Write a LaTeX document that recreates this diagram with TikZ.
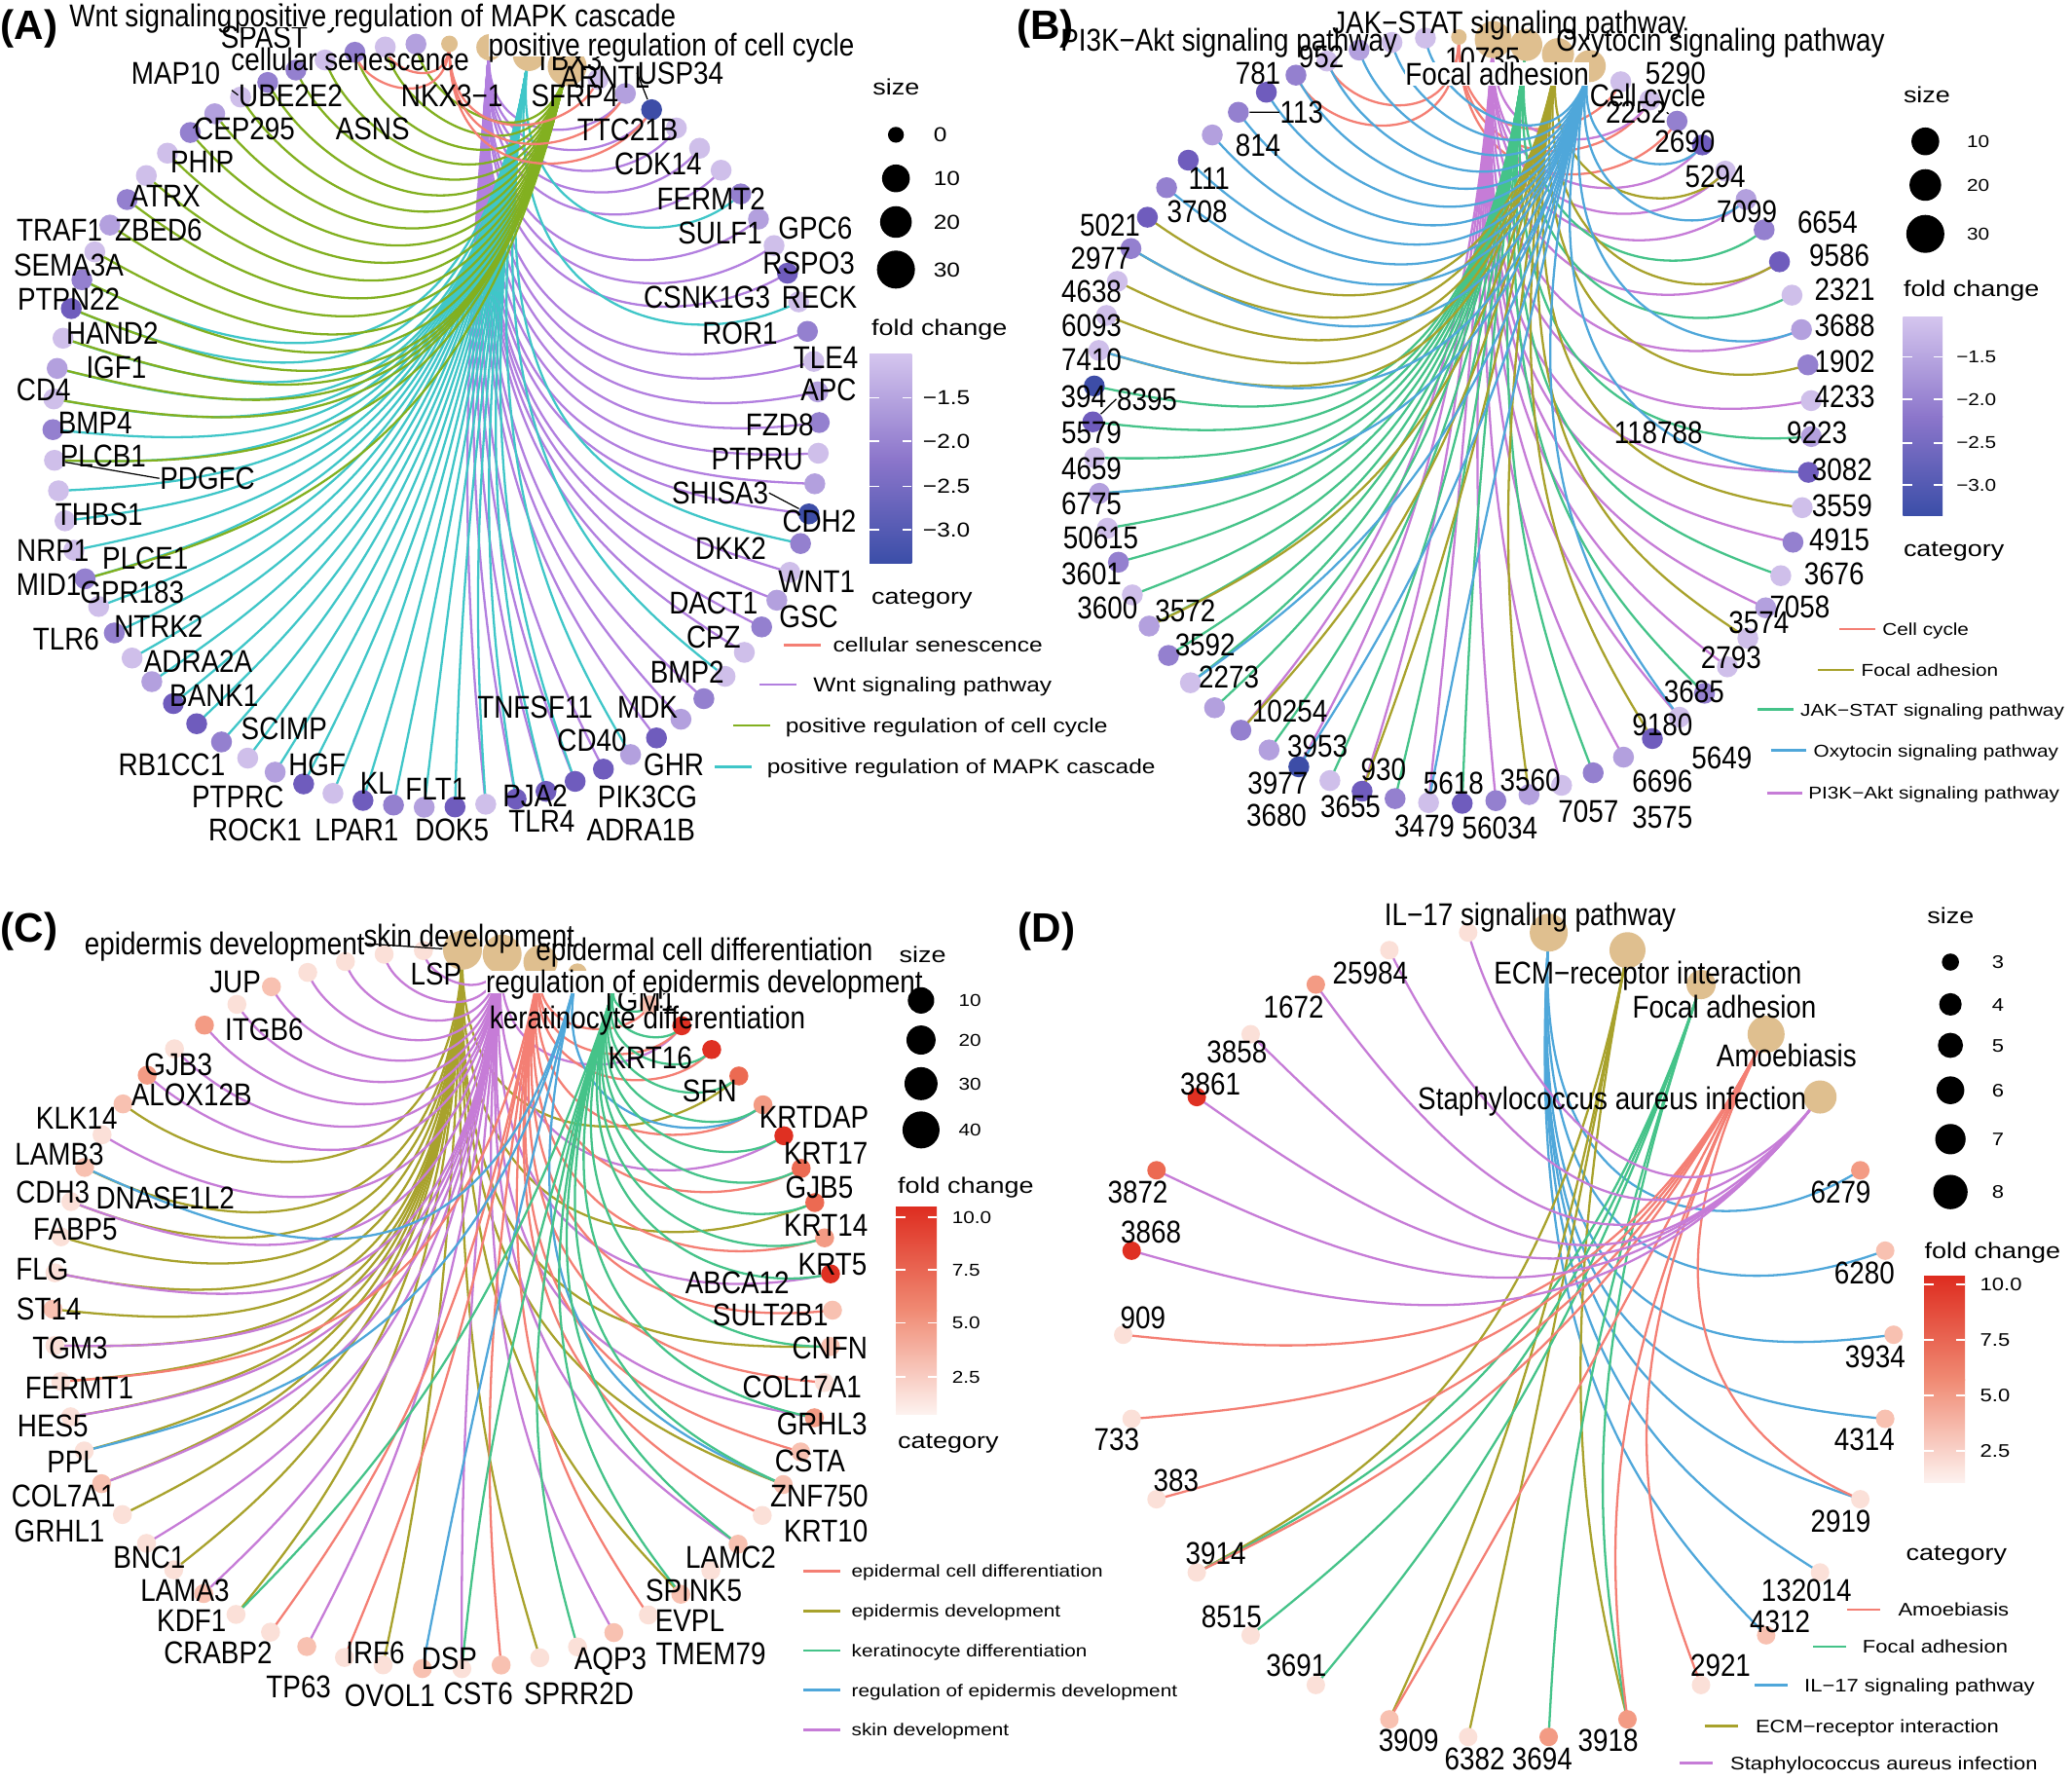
\documentclass[tikz,border=0pt]{standalone}
\usepackage{fontspec}
\setmainfont{Liberation Sans}
\newfontfamily\labf[FakeStretch=0.86]{Liberation Sans}
\newfontfamily\legf[FakeStretch=1.18]{Liberation Sans}
\usetikzlibrary{calc}
\pgfdeclarelayer{bglayer}
\pgfdeclarelayer{edgelayer}
\pgfsetlayers{bglayer,edgelayer,main}
\definecolor{catc}{HTML}{DFBF8F}
\definecolor{pa1}{HTML}{CFBFEA}
\definecolor{pa2}{HTML}{B3A0DE}
\definecolor{pa3}{HTML}{9480CF}
\definecolor{pa4}{HTML}{6F5CBD}
\definecolor{pa5}{HTML}{3D4DA7}
\definecolor{ra1}{HTML}{FBE0D8}
\definecolor{ra2}{HTML}{F8C1B1}
\definecolor{ra3}{HTML}{F39B84}
\definecolor{ra4}{HTML}{EC6A52}
\definecolor{ra5}{HTML}{DF3022}
\definecolor{eR}{HTML}{F47F74}
\definecolor{eOl}{HTML}{A8A22C}
\definecolor{eGr}{HTML}{45C389}
\definecolor{eBl}{HTML}{4FA7DA}
\definecolor{ePu}{HTML}{C67CD7}
\definecolor{eLi}{HTML}{82B020}
\definecolor{eCy}{HTML}{3FC6C8}
\definecolor{eWn}{HTML}{B27FDF}
\definecolor{cbP1}{HTML}{D4C5EE}
\definecolor{cbP2}{HTML}{8C76CB}
\definecolor{cbP3}{HTML}{3B4EA8}
\definecolor{cbR1}{HTML}{DE2D20}
\definecolor{cbR2}{HTML}{F08B74}
\definecolor{cbR3}{HTML}{FDF2EF}
\newdimen\edXa \newdimen\edXb \newdimen\edYa \newdimen\edYb
% edge: colour, category node, gene node, control coordinate
\newcommand\edg[4]{%
  \pgfextractx{\edXa}{\pgfpointanchor{#2}{center}}%
  \pgfextracty{\edYa}{\pgfpointanchor{#2}{center}}%
  \pgfextractx{\edXb}{\pgfpointanchor{#3}{center}}%
  \pgfextracty{\edYb}{\pgfpointanchor{#3}{center}}%
  \pgfmathsetmacro\fa{min(0.95,veclen(\edXb-\edXa,\edYb-\edYa)/170)}%
  \pgfmathsetmacro\fb{0.55*\fa}%
  \draw[ed,#1] (#2.center) .. controls ($(#2.center)!\fa!(#4)$) and ($(#3.center)!\fb!(#4)$) .. (#3.center);}
\tikzset{
  gn/.style={circle, inner sep=0pt, minimum size=0.215cm},
  cn/.style={circle, inner sep=0pt, fill=catc},
  ed/.style={line width=0.65pt},
  leader/.style={black, line width=0.35pt},
  gl/.style={font=\labf\fontsize{9.2}{10}\selectfont, inner sep=0pt, text height=6.6pt, text depth=0pt},
  ttl/.style={font=\bfseries\fontsize{12}{13}\selectfont, inner sep=0pt},
  lgt/.style={font=\legf\fontsize{6.5}{7}\selectfont, inner sep=0pt, anchor=west, text height=4.7pt, text depth=0pt},
  lgA/.style={font=\legf\fontsize{5.9}{6}\selectfont, inner sep=0pt, anchor=west, text height=4.2pt, text depth=0pt},
  lgB/.style={font=\legf\fontsize{5.0}{6}\selectfont, inner sep=0pt, anchor=west, text height=3.6pt, text depth=0pt},
  lgD/.style={font=\legf\fontsize{5.3}{6}\selectfont, inner sep=0pt, anchor=west, text height=3.8pt, text depth=0pt},
  sz/.style={circle, fill=black, inner sep=0pt},
  key/.style={line width=0.8pt},
  tick/.style={white, line width=0.5pt},
}
\begin{document}
\begin{tikzpicture}[x=0.01357cm,y=-0.01357cm]
\begin{pgfonlayer}{bglayer}
\fill[white] (0,0) rectangle (1568,1348);
\end{pgfonlayer}
\useasboundingbox (0,0) rectangle (1568,1348);

% ================= PANEL A =================
\foreach \cl [count=\q from 4] in {pa1,pa2,pa5,pa1,pa1,pa1,pa3,pa2,pa1,pa4,
 pa1,pa3,pa1,pa2,pa3,pa1,pa2,pa5,pa3,pa1,
 pa2,pa3,pa1,pa1,pa3,pa2,pa4,pa2,pa4,pa4,
 pa4,pa4,pa1,pa4,pa2,pa3,pa4,pa1,pa4,pa2,
 pa1,pa3,pa4,pa4,pa2,pa1,pa3,pa1,pa3,pa1,
 pa1,pa1,pa1,pa3,pa1,pa2,pa1,pa4,pa3,pa1,
 pa2,pa3,pa1,pa1,pa3,pa2,pa1,pa3,pa3,pa1,
 pa3,pa1,pa2}{
  \pgfmathsetmacro\ang{-65+4.611*(\q-4)}
  \node[gn,fill=\cl] (a\q) at ({330+290*cos(\ang)},{322+289*sin(\ang)}) {};
}
\node[cn,minimum size=0.17cm] (aS) at (340.1,33.2) {};
\node[cn,minimum size=0.27cm] (aW) at (370.4,35.8) {};
\node[cn,minimum size=0.33cm] (aM) at (400.2,41.6) {};
\node[cn,minimum size=0.40cm] (aC) at (429.2,50.4) {};
\coordinate (aSc) at (333,357);
\coordinate (aWc) at (342,357);
\coordinate (aMc) at (351,357);
\coordinate (aCc) at (360,357);
\begin{pgfonlayer}{edgelayer}
\foreach \q in {5,6,7,8,9,11,12,13,15,16,17,18,19,20,21,23,24,25,26,28,29,30,32,33,34,35,36} {\edg{eWn}{aW}{a\q}{aWc}}
\foreach \q in {10,14,22,27,31} {\edg{eCy}{aM}{a\q}{aMc}}
\foreach \q in {33,...,62} {\edg{eCy}{aM}{a\q}{aMc}}
\foreach \q in {52,56,58,59,60,61,62,63,64,65,66,67,68,69,70,71,72,73,74,75,76} {\edg{eLi}{aC}{a\q}{aCc}}
\foreach \q in {4,5,6,74,75} {\edg{eR}{aS}{a\q}{aSc}}
\end{pgfonlayer}
\foreach \x/\y/\t [count=\i] in {200/28/SPAST, 133/55/MAP10, 220/72/UBE2E2, 342/72/NKX3−1, 430/45/TBX3, 458/58/ARNTL, 435/72/SFRP4, 515/55/USP34, 185/97/CEP295, 282/97/ASNS, 475/98/TTC21B, 153/122/PHIP, 498/124/CDK14, 125/148/ATRX, 538/150/FERMT2, 45/174/TRAF1, 120/174/ZBED6, 545/176/SULF1, 617/172/GPC6, 52/200/SEMA3A, 612/199/RSPO3, 52/226/PTPN22, 535/225/CSNK1G3, 620/225/RECK, 85/252/HAND2, 560/252/ROR1, 625/270/TLE4, 88/278/IGF1, 33/295/CD4, 627/295/APC, 72/320/BMP4, 590/321/FZD8, 78/345/PLCB1, 573/347/PTPRU, 157/362/PDGFC, 545/373/SHISA3, 75/389/THBS1, 620/394/CDH2, 553/415/DKK2, 40/416/NRP1, 110/422/PLCE1, 618/440/WNT1, 37/442/MID1, 100/448/GPR183, 540/456/DACT1, 612/466/GSC, 50/483/TLR6, 120/474/NTRK2, 540/482/CPZ, 150/500/ADRA2A, 520/508/BMP2, 162/526/BANK1, 405/535/TNFSF11, 490/535/MDK, 215/551/SCIMP, 448/560/CD40, 130/578/RB1CC1, 240/578/HGF, 510/578/GHR, 285/592/KL, 330/597/FLT1, 405/602/PJA2, 490/603/PIK3CG, 180/603/PTPRC, 410/621/TLR4, 485/628/ADRA1B, 193/628/ROCK1, 270/628/LPAR1, 342/628/DOK5}
  {\node[gl] (Al\i) at (\x,\y) {\t};}
\draw[leader] (Al35.west) -- (a56);
\draw[leader] (Al36.east) -- (a21);
\draw[leader] (Al8.west) -- (a6);
\draw[leader] (Al3.west) -- (a70);
\draw[leader] (Al9.west) -- (a68);
\node[gl,anchor=west] (AcW) at (52,12) {Wnt signaling pathway};
\node[gl,anchor=east,fill=white] (AcM) at (512,12) {positive regulation of MAPK cascade};
\node[gl] (AcS) at (265,45) {cellular senescence};
\node[gl,fill=white] (AcC) at (508,34) {positive regulation of cell cycle};
\node[ttl] (TA) at (22,22) {(A)};
% legend A
\node[lgt] (LAs) at (660,66) {size};
\node[sz,minimum size=0.163cm] (LAs1) at (678,102) {};
\node[sz,minimum size=0.285cm] (LAs2) at (678,135) {};
\node[sz,minimum size=0.325cm] (LAs3) at (678,168) {};
\node[sz,minimum size=0.39cm] (LAs4) at (678,204) {};
\node[lgA] (LAn1) at (706,102) {0};
\node[lgA] (LAn2) at (706,135) {10};
\node[lgA] (LAn3) at (706,168) {20};
\node[lgA] (LAn4) at (706,204) {30};
\node[lgt] (LAf) at (659,248) {fold change};
\shade[top color=cbP1,bottom color=cbP2] (658,268) rectangle (690,347.5);
\shade[top color=cbP2,bottom color=cbP3] (658,347) rectangle (690,426);
\foreach \ty/\tl in {301/−1.5,334/−2.0,368/−2.5,401/−3.0}{
  \draw[tick] (658,\ty) -- (665,\ty); \draw[tick] (683,\ty) -- (690,\ty);
  \node[lgA] at (698,\ty) {\tl};}
\node[lgt] (LAc) at (659,451) {category};
\draw[key,eR] (593,488) -- (621,488); \node[lgA] (LAk1) at (630,488) {cellular senescence};
\draw[key,eWn] (575,518) -- (603,518); \node[lgA] (LAk2) at (615,518) {Wnt signaling pathway};
\draw[key,eLi] (555,549) -- (583,549); \node[lgA] (LAk3) at (594,549) {positive regulation of cell cycle};
\draw[key,eCy] (541,580) -- (569,580); \node[lgA] (LAk4) at (580,580) {positive regulation of MAPK cascade};

% ================= PANEL B =================
\foreach \cl [count=\q from 5] in {pa1,pa1,pa3,pa4,pa1,pa2,pa3,pa4,pa1,pa2,
 pa3,pa1,pa2,pa4,pa1,pa3,pa1,pa2,pa1,pa1,
 pa3,pa1,pa4,pa2,pa3,pa1,pa2,pa3,pa4,pa1,
 pa3,pa4,pa1,pa5,pa2,pa3,pa2,pa1,pa3,pa2,
 pa1,pa3,pa1,pa2,pa1,pa4,pa5,pa1,pa1,pa1,
 pa3,pa4,pa3,pa4,pa2,pa3,pa4,pa3,pa1,pa2,pa1,pa1}{
  \pgfmathsetmacro\ang{-88.9+5.373*\q}
  \node[gn,fill=\cl] (b\q) at ({1099+272*cos(\ang)},{318+290*sin(\ang)}) {};
}
\node[cn,minimum size=0.16cm] (bCC) at (1104,28) {};
\node[cn,minimum size=0.38cm] (bPI) at (1130,30) {};
\node[cn,minimum size=0.33cm] (bJS) at (1155,34) {};
\node[cn,minimum size=0.33cm] (bFA) at (1179,41) {};
\node[cn,minimum size=0.33cm] (bOx) at (1203,50) {};
\coordinate (bCCc) at (1100.5,353);
\coordinate (bPIc) at (1108,353);
\coordinate (bJSc) at (1116,353);
\coordinate (bFAc) at (1123,353);
\coordinate (bOxc) at (1130,353);
\begin{pgfonlayer}{edgelayer}
\foreach \q in {5,6,7,62,63} {\edg{eR}{bCC}{b\q}{bCCc}}
\foreach \q in {6,8,9,10,12,14,16,18,20,22,24,26,28,30,32,34,36,38,40} {\edg{ePu}{bPI}{b\q}{bPIc}}
\foreach \q in {11,13,17,21,25,29,33,35,37,39,41,42,43,44,45,46,47,48,49,50,51} {\edg{eGr}{bJS}{b\q}{bJSc}}
\foreach \q in {9,12,15,19,23,27,31,36,40,44,52,53,54,55,56} {\edg{eOl}{bFA}{b\q}{bFAc}}
\foreach \q in {8,10,14,18,26,34,38,42,48,52,55,57,58,59,60,61,62,63,64,65,66} {\edg{eBl}{bOx}{b\q}{bOxc}}
\end{pgfonlayer}
\foreach \x/\y/\t [count=\i] in {952/55/781, 1000/43/952, 985/85/113, 952/110/814, 915/135/111, 906/160/3708, 840/170/5021, 833/195/2977, 826/220/4638, 826/246/6093, 826/272/7410, 820/300/394, 868/302/8395, 826/327/5579, 826/354/4659, 826/381/6775, 833/407/50615, 826/434/3601, 838/460/3600, 897/462/3572, 912/488/3592, 930/512/2273, 976/538/10254, 997/564/3953, 967/592/3977, 1047/582/930, 966/617/3680, 1022/610/3655, 1100/592/5618, 1078/625/3479, 1158/590/3560, 1135/626/56034, 1202/614/7057, 1258/618/3575, 1258/591/6696, 1303/573/5649, 1258/548/9180, 1282/523/3685, 1310/497/2793, 1331/471/3574, 1362/459/7058, 1388/434/3676, 1392/408/4915, 1394/382/3559, 1394/355/3082, 1255/327/118788, 1375/327/9223, 1396/300/4233, 1396/273/1902, 1396/246/3688, 1396/219/2321, 1392/193/9586, 1383/168/6654, 1322/160/7099, 1298/133/5294, 1275/107/2690, 1238/85/2252, 1268/55/5290, 1122/44/10735}
  {\node[gl] (Bl\i) at (\x,\y) {\t};}
\draw[leader] (Bl3.west) -- (b60);
\draw[leader] (Bl13.west) -- (b50);
\draw[leader] (Bl57.east) -- (b7);
\node[gl] (BcPI) at (930,30) {PI3K−Akt signaling pathway};
\node[gl] (BcJS) at (1142,17) {JAK−STAT signaling pathway};
\node[gl] (BcOx) at (1302,30) {Oxytocin signaling pathway};
\node[gl,fill=white] (BcFA) at (1133,56) {Focal adhesion};
\node[gl] (BcCC) at (1247,72) {Cell cycle};
\node[ttl] (TB) at (791,22) {(B)};
% legend B
\node[lgt] (LBs) at (1440,72) {size};
\node[sz,minimum size=0.285cm] (LBs1) at (1457,107) {};
\node[sz,minimum size=0.325cm] (LBs2) at (1457,140) {};
\node[sz,minimum size=0.39cm] (LBs3) at (1457,177) {};
\node[lgB] (LBn1) at (1488,107) {10};
\node[lgB] (LBn2) at (1488,140) {20};
\node[lgB] (LBn3) at (1488,177) {30};
\node[lgt] (LBf) at (1440,218) {fold change};
\shade[top color=cbP1,bottom color=cbP2] (1440,240) rectangle (1470,315.5);
\shade[top color=cbP2,bottom color=cbP3] (1440,315) rectangle (1470,390);
\foreach \ty/\tl in {270/−1.5,302/−2.0,335/−2.5,367/−3.0}{
  \draw[tick] (1440,\ty) -- (1447,\ty); \draw[tick] (1463,\ty) -- (1470,\ty);
  \node[lgB] at (1480,\ty) {\tl};}
\node[lgt] (LBc) at (1440,415) {category};
\draw[key,eR] (1392,476) -- (1419,476); \node[lgB] (LBk1) at (1424,476) {Cell cycle};
\draw[key,eOl] (1376,507) -- (1403,507); \node[lgB] (LBk2) at (1408,507) {Focal adhesion};
\draw[key,eGr] (1330,537) -- (1357,537); \node[lgB] (LBk3) at (1362,537) {JAK−STAT signaling pathway};
\draw[key,eBl] (1340,568) -- (1367,568); \node[lgB] (LBk4) at (1372,568) {Oxytocin signaling pathway};
\draw[key,ePu] (1337,600) -- (1364,600); \node[lgB] (LBk5) at (1368,600) {PI3K−Akt signaling pathway};

% ================= PANEL C =================
\foreach \cl [count=\q from 5] in {ra2,ra5,ra5,ra4,ra3,ra5,ra4,ra4,ra3,ra5,
 ra2,ra2,ra1,ra3,ra2,ra2,ra1,ra2,ra1,ra2,
 ra1,ra2,ra1,ra1,ra2,ra1,ra2,ra1,ra1,ra2,
 ra1,ra1,ra2,ra1,ra1,ra1,ra2,ra1,ra1,ra1,
 ra1,ra2,ra1,ra1,ra1,ra2,ra1,ra2,ra3,ra1,
 ra3,ra1,ra2,ra1,ra1,ra1,ra1}{
  \pgfmathsetmacro\ang{-87+5.806*\q}
  \node[gn,minimum size=0.195cm,fill=\cl] (c\q) at ({335+295*cos(\ang)},{991+272*sin(\ang)}) {};
}
\node[cn,minimum size=0.40cm] (cED) at (350,719) {};
\node[cn,minimum size=0.40cm] (cSD) at (380,722) {};
\node[cn,minimum size=0.35cm] (cEC) at (409,728) {};
\node[cn,minimum size=0.19cm] (cRE) at (437,736) {};
\node[cn,minimum size=0.12cm] (cKD) at (465,747) {};
\coordinate (cEDc) at (339.5,1024);
\coordinate (cSDc) at (348.5,1024);
\coordinate (cECc) at (357,1024);
\coordinate (cREc) at (365.6,1024);
\coordinate (cKDc) at (374,1024);
\begin{pgfonlayer}{edgelayer}
\foreach \q in {8,12,16,20,24,28,32,36,38,40,41,42,43,44,45,46,47,48,49,50,52} {\edg{eOl}{cED}{c\q}{cEDc}}
\foreach \q in {6,10,14,18,22,26,30,34,37,39,41,43,45,47,49,51,53,54,55,56,57,58,59,60,61} {\edg{ePu}{cSD}{c\q}{cSDc}}
\foreach \q in {5,6,7,9,11,13,15,17,19,21,25,29,33,35,44} {\edg{eR}{cEC}{c\q}{cECc}}
\foreach \q in {9,20,31,42,50} {\edg{eBl}{cRE}{c\q}{cREc}}
\foreach \q in {5,6,7,8,9,10,11,12,13,14,16,18,20,22,24,27,30,36} {\edg{eGr}{cKD}{c\q}{cKDc}}
\end{pgfonlayer}
\foreach \x/\y/\t [count=\i] in {178/743/JUP, 330/737/LSP, 483/757/TGM1, 200/779/ITGB6, 492/800/KRT16, 135/805/GJB3, 537/825/SFN, 145/828/ALOX12B, 616/845/KRTDAP, 58/846/KLK14, 625/872/KRT17, 45/873/LAMB3, 620/898/GJB5, 40/902/CDH3, 125/906/DNASE1L2, 625/927/KRT14, 57/930/FABP5, 630/956/KRT5, 32/960/FLG, 558/970/ABCA12, 37/990/ST14, 583/995/SULT2B1, 53/1020/TGM3, 628/1020/CNFN, 60/1050/FERMT1, 607/1049/COL17A1, 40/1079/HES5, 622/1077/GRHL3, 55/1106/PPL, 613/1105/CSTA, 48/1132/COL7A1, 620/1132/ZNF750, 45/1158/GRHL1, 625/1158/KRT10, 113/1178/BNC1, 553/1178/LAMC2, 140/1203/LAMA3, 525/1203/SPINK5, 145/1226/KDF1, 522/1226/EVPL, 165/1250/CRABP2, 538/1251/TMEM79, 284/1250/IRF6, 226/1276/TP63, 340/1255/DSP, 462/1255/AQP3, 295/1283/OVOL1, 362/1281/CST6, 438/1281/SPRR2D}
  {\node[gl] (Cl\i) at (\x,\y) {\t};}
\node[gl] (CcED) at (170,714) {epidermis development};
\draw[leader] (CcED.east) -- (cED);
\node[gl] (CcSD) at (355,708) {skin development};
\node[gl] (CcEC) at (533,718) {epidermal cell differentiation};
\node[gl,fill=white] (CcRE) at (533,743) {regulation of epidermis development};
\node[gl] (CcKD) at (490,770) {keratinocyte differentiation};
\node[ttl] (TC) at (22,705) {(C)};
% legend C
\node[lgt] (LCs) at (680,722) {size};
\node[sz,minimum size=0.271cm] (LCs1) at (697,757) {};
\node[sz,minimum size=0.299cm] (LCs2) at (697,787) {};
\node[sz,minimum size=0.339cm] (LCs3) at (697,820) {};
\node[sz,minimum size=0.38cm] (LCs4) at (697,855) {};
\node[lgB] (LCn1) at (725,757) {10};
\node[lgB] (LCn2) at (725,787) {20};
\node[lgB] (LCn3) at (725,820) {30};
\node[lgB] (LCn4) at (725,855) {40};
\node[lgt] (LCf) at (679,897) {fold change};
\shade[top color=cbR1,bottom color=cbR2] (678,913) rectangle (709,992);
\shade[top color=cbR2,bottom color=cbR3] (678,991.5) rectangle (709,1070);
\foreach \ty/\tl in {921/10.0,961/7.5,1001/5.0,1042/2.5}{
  \draw[tick] (678,\ty) -- (685,\ty); \draw[tick] (702,\ty) -- (709,\ty);
  \node[lgB] at (720,\ty) {\tl};}
\node[lgt] (LCc) at (679,1090) {category};
\draw[key,eR] (608,1189) -- (636,1189); \node[lgB] (LCk1) at (644,1189) {epidermal cell differentiation};
\draw[key,eOl] (608,1219) -- (636,1219); \node[lgB] (LCk2) at (644,1219) {epidermis development};
\draw[key,eGr] (608,1249) -- (636,1249); \node[lgB] (LCk3) at (644,1249) {keratinocyte differentiation};
\draw[key,eBl] (608,1279) -- (636,1279); \node[lgB] (LCk4) at (644,1279) {regulation of epidermis development};
\draw[key,ePu] (608,1309) -- (636,1309); \node[lgB] (LCk5) at (644,1309) {skin development};

% ================= PANEL D =================
\foreach \cl [count=\q from 5] in {ra3,ra2,ra2,ra2,ra1,ra1,ra2,ra1,ra3,ra3,
 ra1,ra2,ra1,ra1,ra1,ra1,ra1,ra1,ra5,ra4,ra5,ra1,ra3,ra1,ra1}{
  \pgfmathsetmacro\ang{-84+12*\q}
  \node[gn,minimum size=0.19cm,fill=\cl] (d\q) at ({1141.5+291.5*cos(\ang)},{1010+306*sin(\ang)}) {};
}
\node[cn,minimum size=0.39cm] (dIL) at (1172,705.7) {};
\node[cn,minimum size=0.37cm] (dEC) at (1231.6,719) {};
\node[cn,minimum size=0.30cm] (dFA) at (1287.3,745) {};
\node[cn,minimum size=0.38cm] (dAm) at (1336.5,782.6) {};
\node[cn,minimum size=0.34cm] (dSt) at (1377.3,830.1) {};
\coordinate (dILc) at (1150.6,1047);
\coordinate (dECc) at (1168.6,1047);
\coordinate (dFAc) at (1185.5,1047);
\coordinate (dAmc) at (1200,1047);
\coordinate (dStc) at (1212.3,1047);
\begin{pgfonlayer}{edgelayer}
\foreach \q in {5,6,7,8,9,10,11} {\edg{eBl}{dIL}{d\q}{dILc}}
\foreach \q in {13,15,16,19} {\edg{eOl}{dEC}{d\q}{dECc}}
\foreach \q in {13,14,17,18,19} {\edg{eGr}{dFA}{d\q}{dFAc}}
\foreach \q in {9,12,13,16,19,20,21,22} {\edg{eR}{dAm}{d\q}{dAmc}}
\foreach \q in {23,24,25,26,27,28,29} {\edg{ePu}{dSt}{d\q}{dStc}}
\end{pgfonlayer}
\foreach \x/\y/\t [count=\i] in {1393/902/6279, 1411/963/6280, 1419/1026/3934, 1411/1089/4314, 1393/1151/2919, 1367/1203/132014, 1347/1227/4312, 1302/1260/2921, 1217/1317/3918, 1167/1331/3694, 1116/1331/6382, 1066/1317/3909, 981/1260/3691, 932/1223/8515, 920/1175/3914, 890/1120/383, 845/1089/733, 865/997/909, 871/932/3868, 861/902/3872, 916/820/3861, 936/796/3858, 979/762/1672, 1037/736/25984}
  {\node[gl] (Dl\i) at (\x,\y) {\t};}
\node[gl] (DcIL) at (1158,692) {IL−17 signaling pathway};
\node[gl] (DcEC) at (1247,736) {ECM−receptor interaction};
\node[gl] (DcFA) at (1305,762) {Focal adhesion};
\node[gl] (DcAm) at (1352,799) {Amoebiasis};
\node[gl] (DcSt) at (1220,831) {Staphylococcus aureus infection};
\node[ttl] (TD) at (792,705) {(D)};
% legend D
\node[lgt] (LDs) at (1458,693) {size};
\foreach \yy/\dd/\nn [count=\i] in {728/0.176/3,760/0.231/4,791/0.258/5,825/0.285/6,862/0.312/7,902/0.353/8}{
  \node[sz,minimum size=\dd cm] (LDs\i) at (1476,\yy) {};
  \node[lgD] (LDn\i) at (1507,\yy) {\nn};}
\node[lgt] (LDf) at (1456,946) {fold change};
\shade[top color=cbR1,bottom color=cbR2] (1456,966) rectangle (1487,1044.5);
\shade[top color=cbR2,bottom color=cbR3] (1456,1044) rectangle (1487,1122);
\foreach \ty/\tl in {972/10.0,1014/7.5,1056/5.0,1098/2.5}{
  \draw[tick] (1456,\ty) -- (1463,\ty); \draw[tick] (1480,\ty) -- (1487,\ty);
  \node[lgD] at (1498,\ty) {\tl};}
\node[lgt] (LDc) at (1442,1175) {category};
\draw[key,eR] (1398,1218) -- (1423,1218); \node[lgD] (LDk1) at (1436,1218) {Amoebiasis};
\draw[key,eGr] (1372,1246) -- (1397,1246); \node[lgD] (LDk2) at (1409,1246) {Focal adhesion};
\draw[key,eBl] (1328,1275) -- (1353,1275); \node[lgD] (LDk3) at (1365,1275) {IL−17 signaling pathway};
\draw[key,eOl] (1290,1306) -- (1315,1306); \node[lgD] (LDk4) at (1328,1306) {ECM−receptor interaction};
\draw[key,ePu] (1271,1334) -- (1296,1334); \node[lgD] (LDk5) at (1309,1334) {Staphylococcus aureus infection};
\end{tikzpicture}
\end{document}
